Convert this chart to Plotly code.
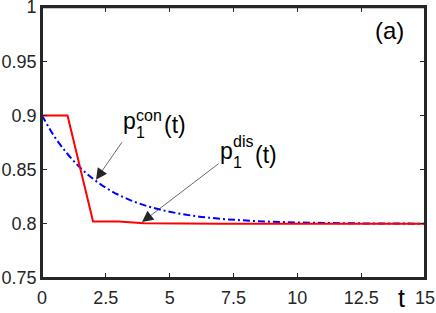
import plotly.graph_objects as go

# ---- data ----
t_dis = [0, 1, 2, 3, 4, 5, 6, 7, 8, 9, 10, 11, 12, 13, 14, 15]
p_dis = [0.9, 0.9, 0.8022, 0.8021, 0.8005, 0.8001, 0.8, 0.8, 0.8, 0.8, 0.8, 0.8, 0.8, 0.8, 0.8, 0.8]

t_con = [0, 0.5, 1, 1.5, 2, 2.5, 3, 3.5, 4, 4.5, 5, 6, 7, 8, 9, 10, 11, 12, 13, 14, 15]
p_con = [0.9, 0.880, 0.8644, 0.8517, 0.8415, 0.8333, 0.8267, 0.8214, 0.8172, 0.8138,
         0.8111, 0.8071, 0.8046, 0.8030, 0.8019, 0.8012, 0.8008, 0.8005, 0.8003, 0.8002, 0.8001]

x_ticks = [0, 2.5, 5, 7.5, 10, 12.5, 15]
x_tick_labels = ["0", "2.5", "5", "7.5", "10", "12.5", "15"]
y_ticks = [0.75, 0.8, 0.85, 0.9, 0.95, 1]
y_tick_labels = ["0.75", "0.8", "0.85", "0.9", "0.95", "1"]

W, H = 436, 313
L, R, T, B = 42, 425, 7, 278.5
XMIN, XMAX, YMIN, YMAX = 0, 15, 0.75, 1.0


def pxp(px):
    return (px - L) / (R - L)


def pyp(py):
    return (B - py) / (B - T)


FONT = "Liberation Sans, Arial, Helvetica, sans-serif"
AX = "#262626"

fig = go.Figure()
fig.add_trace(go.Scatter(x=t_con, y=p_con, mode="lines",
                         line=dict(color="#0000ff", width=2, dash="7px,3px,2px,3px"),
                         line_shape="spline"))
fig.add_trace(go.Scatter(x=t_dis, y=p_dis, mode="lines",
                         line=dict(color="#ff0000", width=2)))

annotations = []


def txt(text, px, py, size, xanchor="left", yanchor="middle"):
    annotations.append(dict(text=text, x=pxp(px), y=pyp(py), xref="paper", yref="paper",
                            showarrow=False, xanchor=xanchor, yanchor=yanchor,
                            font=dict(family=FONT, size=size, color="black")))


def arrow(tx, ty, hx, hy):
    annotations.append(dict(text="", x=pxp(hx), y=pyp(hy), ax=tx - hx, ay=ty - hy,
                            xref="paper", yref="paper",
                            showarrow=True, arrowhead=2, arrowsize=3.2, arrowwidth=0.7,
                            arrowcolor="#262626"))


# (a)
txt("(a)", 389, 31, 24, xanchor="center")
# p1^con(t)
txt("p", 121, 121, 23)
txt("1", 134, 133, 16)
txt("con", 134, 116, 16)
txt("(t)", 162, 125, 23)
# p1^dis(t)
txt("p", 218, 151, 23)
txt("1", 231, 163, 16)
txt("dis", 231, 142, 16)
txt("(t)", 253, 155, 23)
# t axis label
txt("t", 401, 299, 25, xanchor="center")

arrow(123, 141, 96, 180)
arrow(220, 163, 142, 222.5)

axis_common = dict(showline=True, linecolor=AX, linewidth=1.8, mirror="ticks",
                   ticks="inside", ticklen=5, tickwidth=1, tickcolor=AX,
                   showgrid=False, zeroline=False, automargin=False,
                   ticklabeloverflow="allow",
                   tickfont=dict(family=FONT, size=18, color=AX))

frame = dict(xref="paper", yref="paper", line=dict(color=AX, width=2), layer="above")

fig.update_layout(
    width=W, height=H,
    margin=dict(l=L, r=W - R, t=T, b=H - B, autoexpand=False),
    paper_bgcolor="white", plot_bgcolor="white",
    showlegend=False,
    xaxis=dict(range=[XMIN, XMAX], tickvals=x_ticks, ticktext=x_tick_labels,
               ticklabelstandoff=2, **axis_common),
    yaxis=dict(range=[YMIN, YMAX], tickvals=y_ticks, ticktext=y_tick_labels, **axis_common),
    annotations=annotations,
    shapes=[dict(type="line", x0=0, x1=1, y0=1, y1=1, xref="paper", yref="paper",
                 line=dict(color=AX, width=2.5), layer="above"),
            dict(type="line", x0=1, x1=1, y0=0, y1=1, **frame),
            dict(type="line", x0=0, x1=0, y0=0, y1=1, **frame),
            dict(type="line", x0=0, x1=1, y0=0, y1=0, **frame)],
)

fig.write_html("out.html", config={"displayModeBar": False},
               post_script="document.body.style.margin='0';document.body.style.padding='0';")
